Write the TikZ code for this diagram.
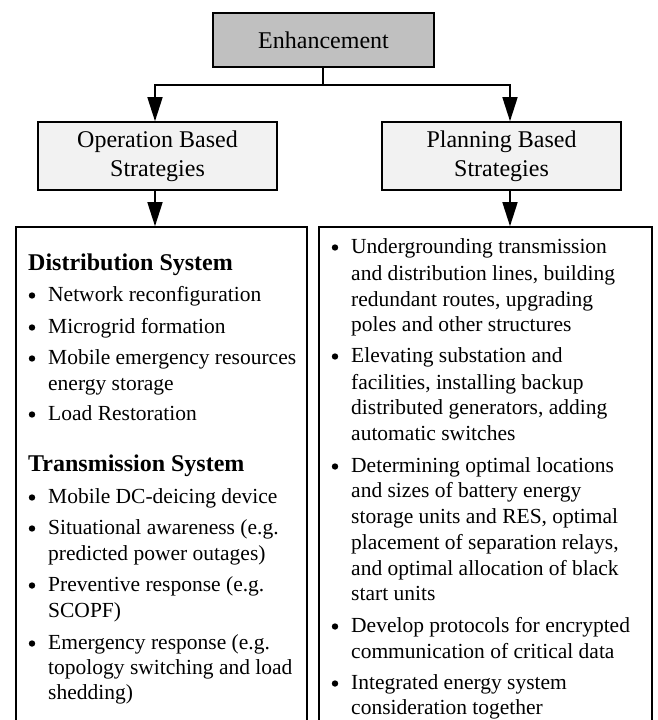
\documentclass[tikz,border=0pt]{standalone}
\usepackage{fontspec}
\setmainfont{Liberation Serif}
\usetikzlibrary{arrows.meta}
\begin{document}
\begin{tikzpicture}[x=1pt,y=-1pt,
  box/.style={draw=black,line width=1.6pt,inner sep=0pt,align=center,font=\fontsize{24}{29}\selectfont},
  bigbox/.style={draw=black,line width=1.6pt,inner sep=0pt},
  arr/.style={line width=1.6pt,-{Triangle[length=24pt,width=15pt]}},
  conn/.style={line width=1.6pt},
  ln/.style={anchor=base west,inner sep=0pt,font=\fontsize{21.5}{25.8}\selectfont},
  bul/.style={circle,fill=black,inner sep=0pt,minimum size=6.4pt},
  head/.style={anchor=base west,inner sep=0pt,font=\fontsize{24}{29}\selectfont\bfseries},
]
\useasboundingbox (0,0) rectangle (658,720);
\clip (0,0) rectangle (658,720);

% boxes
\node[box,fill={rgb,255:red,192;green,192;blue,192},minimum width=221pt,minimum height=54pt] (enh) at (323.5,40) {Enhancement};
\node[box,fill={rgb,255:red,242;green,242;blue,242},minimum width=239pt,minimum height=68pt] (op) at (157.5,156) {Operation Based\\Strategies};
\node[box,fill={rgb,255:red,242;green,242;blue,242},minimum width=239pt,minimum height=68pt] (pl) at (501.5,156) {Planning Based\\Strategies};
\node[bigbox,minimum width=291pt,minimum height=533pt] (lbox) at (161.5,493.5) {};
\node[bigbox,minimum width=333pt,minimum height=533pt] (rbox) at (485.5,493.5) {};

% connectors
\coordinate (jl) at (155,85);
\coordinate (jr) at (510,85);
\coordinate (js) at (323,85);
\draw[conn] (js |- enh.south) -- (js);
\draw[conn] ([xshift=-0.8pt]jl) -- ([xshift=0.8pt]jr);
\draw[arr] (jl) -- (jl |- op.north);
\draw[arr] (jr) -- (jr |- pl.north);
\draw[arr] (jl |- op.south) -- (jl |- lbox.north);
\draw[arr] (jr |- pl.south) -- (jr |- rbox.north);

% left column
\node[head] (h1) at (28,270) {Distribution System};
\node[head] (h2) at (28,471) {Transmission System};
\foreach \y/\t [count=\i] in {301/{Network reconfiguration},333/{Microgrid formation},364/{Mobile emergency resources},420/{Load Restoration},503/{Mobile DC-deicing device},534/{Situational awareness (e.g.},591/{Preventive response (e.g.},649/{Emergency response (e.g.}}{
  \node[bul] (lb\i) at (32,\y-5.5) {};
  \node[ln] (lt\i) at (48,\y) {\t};
}
\foreach \y/\t [count=\i] in {390/{energy storage},560/{predicted power outages)},617/{SCOPF)},674/{topology switching and load},699/{shedding)}}{
  \node[ln] (lc\i) at (48,\y) {\t};
}

% right column
\foreach \y/\t [count=\i] in {253/{Undergrounding transmission},362/{Elevating substation and},472/{Determining optimal locations},632/{Develop protocols for encrypted},689/{Integrated energy system}}{
  \node[bul] (rb\i) at (335,\y-5.5) {};
  \node[ln] (rt\i) at (351,\y) {\t};
}
\foreach \y/\t [count=\i] in {280/{and distribution lines, building},306/{redundant routes, upgrading},331/{poles and other structures},389/{facilities, installing backup},414/{distributed generators, adding},440/{automatic switches},497/{and sizes of battery energy},523/{storage units and RES, optimal},549/{placement of separation relays,},575/{and optimal allocation of black},600/{start units},658/{communication of critical data},714/{consideration together}}{
  \node[ln] (rc\i) at (351,\y) {\t};
}
\end{tikzpicture}
\end{document}
